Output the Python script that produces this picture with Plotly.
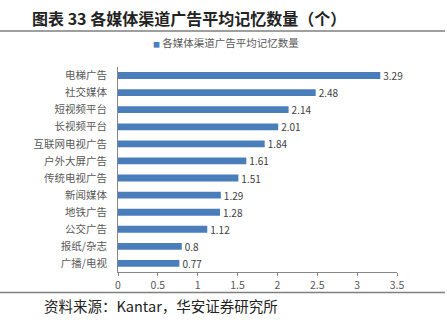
import plotly.graph_objects as go

categories = ["电梯广告", "社交媒体", "短视频平台", "长视频平台", "互联网电视广告", "户外大屏广告",
              "传统电视广告", "新闻媒体", "地铁广告", "公交广告", "报纸/杂志", "广播/电视"]
values = [3.29, 2.48, 2.14, 2.01, 1.84, 1.61, 1.51, 1.29, 1.28, 1.12, 0.8, 0.77]
labels = ["3.29", "2.48", "2.14", "2.01", "1.84", "1.61", "1.51", "1.29", "1.28", "1.12", "0.8", "0.77"]
xticks = [0, 0.5, 1, 1.5, 2, 2.5, 3, 3.5]
series_name = "各媒体渠道广告平均记忆数量"

FONT = "Noto Sans CJK SC"
W, H = 447, 327
L, R, T, B = 118, 50, 67, 55
pw, ph = W - L - R, H - T - B
BAR = "#4A7EBB"
TXT = "#595959"

def px(x):
    return (x - L) / pw

def py(y):
    return (H - B - y) / ph

fig = go.Figure()
fig.add_trace(go.Bar(
    y=categories, x=values, orientation="h", name=series_name,
    marker=dict(color=BAR, line=dict(color=BAR, width=0)),
    text=labels, textposition="outside", cliponaxis=False, constraintext="none",
    textfont=dict(family=FONT, size=10, color="#404040"),
    showlegend=False,
))

fig.update_layout(
    width=W, height=H,
    margin=dict(l=L, r=R, t=T, b=B),
    paper_bgcolor="white", plot_bgcolor="white",
    bargap=0.6,
    font=dict(family=FONT, size=10, color=TXT),
    showlegend=False,
    xaxis=dict(range=[0, 3.5], tickvals=xticks, ticktext=[str(v) for v in xticks],
               showgrid=False, zeroline=False, showline=True, linecolor="#868686", linewidth=1,
               ticks="outside", ticklen=3, tickcolor="#868686",
               tickfont=dict(family=FONT, size=10.5, color=TXT)),
    yaxis=dict(categoryorder="array", categoryarray=categories[::-1],
               showgrid=False, showline=True, linecolor="#868686", linewidth=1,
               ticks="", ticklabelstandoff=8,
               tickfont=dict(family=FONT, size=10.5, color=TXT)),
)

# legend drawn as a real text entry
fig.add_annotation(text="<span style='color:%s;font-size:7px'>■</span> %s" % (BAR, series_name),
                   xref="paper", yref="paper", x=px(151), y=py(43), xanchor="left", yanchor="middle",
                   showarrow=False, font=dict(family=FONT, size=10.5, color=TXT))
fig.add_annotation(text="<b>图表 33 各媒体渠道广告平均记忆数量（个）</b>", xref="paper", yref="paper",
                   x=px(30), y=py(18), xanchor="left", yanchor="middle", showarrow=False,
                   font=dict(family=FONT, size=16, color="#222222"))
fig.add_annotation(text="资料来源：Kantar，华安证券研究所", xref="paper", yref="paper",
                   x=px(42), y=py(305), xanchor="left", yanchor="middle", showarrow=False,
                   font=dict(family=FONT, size=14.5, color="#222222"))
fig.add_shape(type="line", xref="paper", yref="paper", x0=px(0), x1=px(445), y0=py(31), y1=py(31),
              line=dict(color="#7F7F7F", width=1.5))
fig.add_shape(type="line", xref="paper", yref="paper", x0=px(0), x1=px(445), y0=py(292.5), y1=py(292.5),
              line=dict(color="#7F7F7F", width=1.5))

fig.write_html("out.html")
